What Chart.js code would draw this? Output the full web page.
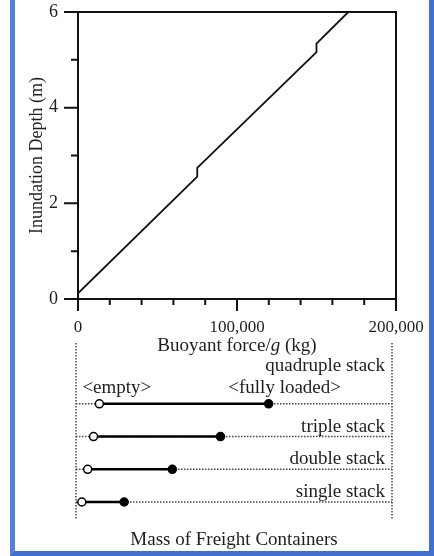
<!DOCTYPE html>
<html>
<head>
<meta charset="utf-8">
<title>Inundation depth vs buoyant force</title>
<script src="https://cdn.jsdelivr.net/npm/chart.js@4/dist/chart.umd.min.js"></script>
<style>
  html, body { margin: 0; padding: 0; background: #fff; }
  body { width: 434px; height: 556px; position: relative; overflow: hidden; }
  #frame {
    position: absolute; left: 10px; top: -10px; width: 424px; height: 566px;
    box-sizing: border-box; border: 5px solid #416fcf; border-left-color: #5a80d6;
  }
  canvas { position: absolute; left: 0; }
  #top { top: 0; }
  #bottom { top: 330px; }
</style>
</head>
<body>
<div id="frame"></div>
<canvas id="top" width="434" height="357"></canvas>
<canvas id="bottom" width="434" height="221"></canvas>
<script>
// buoyancy curve (step at each added container layer)
const forceKg = [0, 75000, 75000, 150000, 150000, 170000];
const depthM = [0.12, 2.56, 2.74, 5.16, 5.34, 6.0];
const xTicks = [0, 100000, 200000];
const yTicks = [0, 2, 4, 6];

// container masses per stack height
const stacks = ['single stack', 'double stack', 'triple stack', 'quadruple stack'];
const emptyKg = [3700, 7400, 11100, 14800];
const fullKg = [30480, 60960, 91440, 121920];

const serif = '"Liberation Serif", "Times New Roman", serif';
const ink = '#1e1e1e';

// fixed axis size, no extra label overflow padding
function fixSize(prop, size) {
  return s => {
    s[prop] = size;
    s.paddingTop = s.paddingBottom = s.paddingLeft = s.paddingRight = 0;
  };
}

// frame, custom tick marks and the x title with italic g
const topDecor = {
  id: 'topDecor',
  afterDraw(chart) {
    const { ctx, chartArea: a, scales: { x, y } } = chart;
    ctx.save();
    ctx.strokeStyle = '#111';
    ctx.lineWidth = 2;
    ctx.strokeRect(a.left, a.top, a.right - a.left, a.bottom - a.top);
    ctx.beginPath();
    x.ticks.forEach(t => {
      const px = x.getPixelForValue(t.value);
      const len = xTicks.includes(t.value) ? 12 : 6;
      ctx.moveTo(px, a.bottom);
      ctx.lineTo(px, a.bottom + len);
    });
    y.ticks.forEach(t => {
      const py = y.getPixelForValue(t.value);
      const len = yTicks.includes(t.value) ? 14 : 7;
      ctx.moveTo(a.left, py);
      ctx.lineTo(a.left - len, py);
    });
    ctx.stroke();

    const parts = [['Buoyant force/', ''], ['g', 'italic '], [' (kg)', '']];
    const fontFor = s => s + '19px ' + serif;
    let total = 0;
    parts.forEach(p => { ctx.font = fontFor(p[1]); total += ctx.measureText(p[0]).width; });
    let cx = (a.left + a.right) / 2 - total / 2;
    const cy = x.bottom - 11;
    ctx.fillStyle = ink;
    ctx.textBaseline = 'middle';
    ctx.textAlign = 'left';
    parts.forEach(p => {
      ctx.font = fontFor(p[1]);
      ctx.fillText(p[0], cx, cy);
      cx += ctx.measureText(p[0]).width;
    });
    ctx.restore();
  }
};

new Chart(document.getElementById('top'), {
  type: 'scatter',
  data: {
    datasets: [{
      data: forceKg.map((v, i) => ({ x: v, y: depthM[i] })),
      showLine: true,
      borderColor: '#111',
      borderWidth: 1.8,
      pointRadius: 0,
      tension: 0
    }]
  },
  options: {
    responsive: false,
    animation: false,
    events: [],
    layout: { padding: { left: 15, right: 38, top: 12, bottom: 0 } },
    plugins: { legend: { display: false }, tooltip: { enabled: false } },
    scales: {
      x: {
        type: 'linear', min: 0, max: 200000,
        afterFit: fixSize('height', 58),
        grid: { display: false, drawTicks: false },
        border: { display: false },
        ticks: {
          stepSize: 20000, autoSkip: false, maxRotation: 0, padding: 18,
          color: ink, font: { family: serif, size: 17 },
          callback: v => xTicks.includes(v) ? v.toLocaleString('en-US') : ''
        }
      },
      y: {
        type: 'linear', min: 0, max: 6,
        afterFit: fixSize('width', 63),
        grid: { display: false, drawTicks: false },
        border: { display: false },
        ticks: {
          stepSize: 1, autoSkip: false, padding: 20,
          color: ink, font: { family: serif, size: 18 },
          callback: v => yTicks.includes(v) ? String(v) : ''
        },
        title: {
          display: true, text: 'Inundation Depth (m)',
          color: ink, font: { family: serif, size: 18 },
          padding: { top: 11, bottom: 0 }
        }
      }
    }
  },
  plugins: [topDecor]
});

// dotted guides under the bars, labels on top
const bottomDecor = {
  id: 'bottomDecor',
  beforeDatasetsDraw(chart) {
    const { ctx, chartArea: a, scales: { y } } = chart;
    ctx.save();
    ctx.strokeStyle = '#444';
    ctx.lineWidth = 1.5;
    ctx.setLineDash([1.5, 1.5]);
    ctx.beginPath();
    ctx.moveTo(a.left, a.top); ctx.lineTo(a.left, a.bottom);
    ctx.moveTo(a.right, a.top); ctx.lineTo(a.right, a.bottom);
    stacks.forEach((s, i) => {
      const py = y.getPixelForValue(i + 1);
      ctx.moveTo(a.left, py); ctx.lineTo(a.right, py);
    });
    ctx.stroke();
    ctx.restore();
  },
  afterDatasetsDraw(chart) {
    const { ctx, chartArea: a, scales: { x, y } } = chart;
    ctx.save();
    ctx.fillStyle = ink;
    ctx.font = '19px ' + serif;
    ctx.textBaseline = 'middle';
    ctx.textAlign = 'right';
    stacks.forEach((s, i) => {
      const py = y.getPixelForValue(i + 1);
      ctx.fillText(s, a.right - 7, py - (i === stacks.length - 1 ? 38 : 10));
    });
    const last = stacks.length - 1;
    const qy = y.getPixelForValue(last + 1) - 16;
    ctx.textAlign = 'left';
    ctx.fillText('<empty>', x.getPixelForValue(emptyKg[last]) - 17, qy);
    ctx.textAlign = 'center';
    ctx.fillText('<fully loaded>', x.getPixelForValue(fullKg[last]) + 16, qy);
    ctx.restore();
  }
};

new Chart(document.getElementById('bottom'), {
  type: 'scatter',
  data: {
    datasets: stacks.map((s, i) => ({
      label: s,
      data: [{ x: emptyKg[i], y: i + 1 }, { x: fullKg[i], y: i + 1 }],
      showLine: true,
      borderColor: '#000',
      borderWidth: 2.5,
      pointRadius: 4,
      pointBorderWidth: 1.5,
      pointBorderColor: '#000',
      pointBackgroundColor: ['#fff', '#000']
    }))
  },
  options: {
    responsive: false,
    animation: false,
    events: [],
    layout: { padding: { left: 76, right: 42, top: 13, bottom: 0 } },
    plugins: { legend: { display: false }, tooltip: { enabled: false } },
    scales: {
      x: {
        type: 'linear', min: 0, max: 200000,
        afterFit: fixSize('height', 31),
        grid: { display: false, drawTicks: false },
        border: { display: false },
        ticks: { display: false },
        title: {
          display: true, text: 'Mass of Freight Containers',
          color: ink, font: { family: serif, size: 19 },
          padding: 0
        }
      },
      y: { type: 'linear', min: 0.45, max: 5.86, display: false }
    }
  },
  plugins: [bottomDecor]
});
</script>
</body>
</html>
